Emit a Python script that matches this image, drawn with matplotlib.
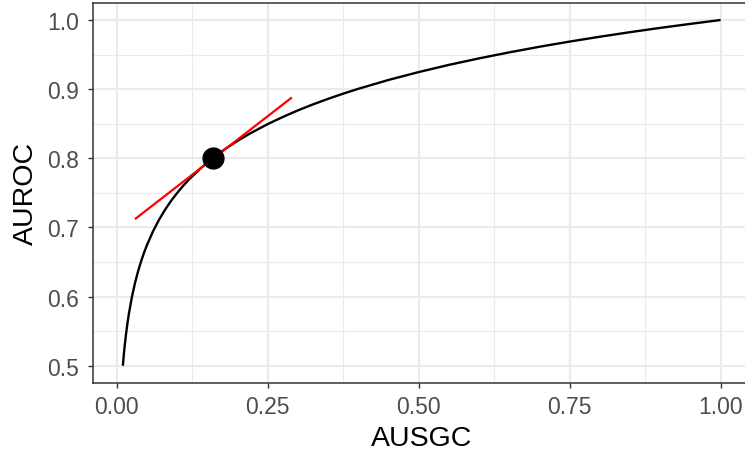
"""AUROC as a function of AUSGC, with the tangent at the operating point."""

import matplotlib
matplotlib.use("Agg")
import matplotlib.pyplot as plt
from matplotlib.ticker import FixedLocator

# curve values
ausgc = [0.010, 0.011, 0.012, 0.013, 0.015, 0.0175, 0.020, 0.025, 0.030, 0.035,
         0.040, 0.045, 0.050, 0.060, 0.070, 0.080, 0.090, 0.100, 0.110, 0.120,
         0.140, 0.160, 0.180, 0.200, 0.220, 0.250, 0.275, 0.300, 0.325, 0.350,
         0.375, 0.400, 0.450, 0.500, 0.550, 0.600, 0.650, 0.700, 0.750, 0.800,
         0.850, 0.900, 0.950, 1.000]
auroc = [0.5000, 0.5104, 0.5198, 0.5285, 0.5440, 0.5608, 0.5753, 0.5995, 0.6193,
         0.6360, 0.6505, 0.6633, 0.6747, 0.6945, 0.7113, 0.7258, 0.7386, 0.7500,
         0.7604, 0.7698, 0.7865, 0.8010, 0.8138, 0.8253, 0.8356, 0.8495, 0.8598,
         0.8693, 0.8780, 0.8860, 0.8935, 0.9005, 0.9133, 0.9247, 0.9351, 0.9445,
         0.9532, 0.9613, 0.9688, 0.9758, 0.9824, 0.9886, 0.9944, 1.0000]

# operating point and its tangent segment
point_x = [0.16]
point_y = [0.80]
tangent_x = [0.03, 0.29]
tangent_y = [0.712, 0.888]

x_major = [0.00, 0.25, 0.50, 0.75, 1.00]
x_labels = ["0.00", "0.25", "0.50", "0.75", "1.00"]
x_minor = [0.125, 0.375, 0.625, 0.875]
y_major = [0.5, 0.6, 0.7, 0.8, 0.9, 1.0]
y_labels = ["0.5", "0.6", "0.7", "0.8", "0.9", "1.0"]
y_minor = [0.55, 0.65, 0.75, 0.85, 0.95]

plt.rcParams["font.family"] = ["Liberation Sans", "DejaVu Sans"]

fig = plt.figure(figsize=(7.45, 4.52), dpi=100)
# panel runs a little past the right edge of the canvas
ax = fig.add_axes([0.1248, 0.1504, 0.8826, 0.8414])

ax.set_xlim(-0.0395, 1.0495)
ax.set_ylim(0.475, 1.025)

ax.xaxis.set_major_locator(FixedLocator(x_major))
ax.xaxis.set_minor_locator(FixedLocator(x_minor))
ax.yaxis.set_major_locator(FixedLocator(y_major))
ax.yaxis.set_minor_locator(FixedLocator(y_minor))
ax.set_xticklabels(x_labels)
ax.set_yticklabels(y_labels)

ax.grid(which="major", color="#EBEBEB", lw=1.5)
ax.grid(which="minor", color="#EBEBEB", lw=0.8)
ax.set_axisbelow(True)

ax.tick_params(which="major", length=3.8, width=1.0, color="#333333",
               labelsize=16.5, labelcolor="#4D4D4D", pad=5)
ax.tick_params(axis="y", which="major", pad=6)
ax.tick_params(which="minor", length=0)
for sp in ax.spines.values():
    sp.set_color("#333333")
    sp.set_linewidth(1.1)

ax.plot(ausgc, auroc, color="black", lw=1.7, solid_joinstyle="round",
        solid_capstyle="butt", zorder=3)
ax.plot(tangent_x, tangent_y, color="#FF0000", lw=1.6, solid_capstyle="butt", zorder=4)
ax.plot(point_x, point_y, "o", color="black", markersize=15, zorder=5)

ax.set_xlabel("AUSGC", fontsize=20.5, color="black", labelpad=5)
ax.set_ylabel("AUROC", fontsize=20.5, color="black", labelpad=6)

fig.savefig("out.png", dpi=100)
